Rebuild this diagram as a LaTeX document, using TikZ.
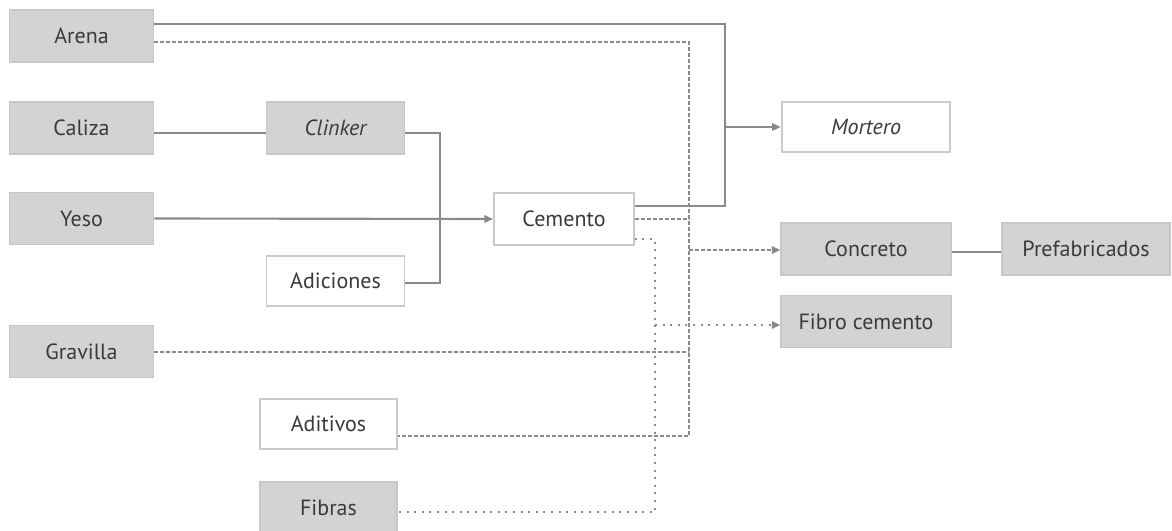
\documentclass[tikz,border=0pt]{standalone}
\usepackage{fontspec}
\setmainfont{PT Sans}
\usetikzlibrary{arrows.meta}
\definecolor{boxfill}{HTML}{D2D3D5}
\definecolor{boxline}{HTML}{C6C7C9}
\definecolor{wline}{HTML}{CACACC}
\definecolor{conn}{HTML}{8A8A8C}
\definecolor{txt}{HTML}{3A3A3C}
\tikzset{
  base/.style={rectangle, inner sep=0pt, line width=1.3pt, text=txt,
    font=\fontsize{16.5}{19}\selectfont, minimum height=39pt},
  graybox/.style={base, fill=boxfill, draw=boxline},
  whitebox/.style={base, fill=white, draw=wline},
  solidc/.style={draw=conn, line width=1.6pt},
  dashc/.style={draw=conn, line width=1.8pt, dash pattern=on 3pt off 1.5pt},
  dotc/.style={draw=conn, line width=1.8pt, dash pattern=on 1.5pt off 4.2pt},
  tip/.style={-{Triangle[length=6.5pt,width=5.5pt]}}
}
\begin{document}
\begin{tikzpicture}[x=0.75pt,y=-0.75pt]
\useasboundingbox (0,0) rectangle (1172,531);
% nodes
\node[graybox, minimum width=108pt] (arena) at (81.5,36) {Arena};
\node[graybox, minimum width=108pt] (caliza) at (81.5,128) {Caliza};
\node[graybox, minimum width=103.5pt] (clinker) at (335.5,128) {\itshape Clinker};
\node[graybox, minimum width=108pt] (yeso) at (81.5,218.5) {Yeso};
\node[whitebox, minimum width=103.5pt, minimum height=38pt] (adiciones) at (335.5,281) {Adiciones};
\node[whitebox, minimum width=105pt] (cemento) at (564,219) {Cemento};
\node[whitebox, minimum width=126.5pt, minimum height=37.5pt] (mortero) at (866,127) {\itshape Mortero};
\node[graybox, minimum width=127pt] (concreto) at (866,249) {Concreto};
\node[graybox, minimum width=126pt] (prefab) at (1086,249) {Prefabricados};
\node[graybox, minimum width=127pt] (fibro) at (866,321.5) {Fibro cemento};
\node[graybox, minimum width=108pt] (gravilla) at (81.5,351.5) {Gravilla};
\node[whitebox, minimum width=103pt, minimum height=38pt] (aditivos) at (328.5,424) {Aditivos};
\node[graybox, minimum width=103pt] (fibras) at (328.5,508) {Fibras};
% junction coordinates
\coordinate (sA) at (725,24);
\coordinate (sB) at (725,206);
\coordinate (sM) at (725,127);
\coordinate (cJ) at (440,133);
\coordinate (aJ) at (440,283);
\coordinate (dA) at (689,42);
\coordinate (dB) at (689,436);
\coordinate (dC) at (689,250);
\coordinate (pA) at (655,239);
\coordinate (pB) at (655,512);
\coordinate (pC) at (655,325);
% solid connectors
\draw[solidc] (arena.east |- sA) -- (sA) -- (sB) -- (cemento.east |- sB);
\draw[solidc, tip] (sM) -- (mortero.west |- sM);
\draw[solidc] (caliza.east |- cJ) -- (clinker.west |- cJ);
\draw[solidc] (clinker.east |- cJ) -- (cJ) -- (aJ) -- (adiciones.east |- aJ);
\draw[solidc, tip] (yeso.east) -- (cemento.west);
\draw[solidc] (concreto.east |- 0,252) -- (prefab.west |- 0,252);
% dashed connectors
\draw[dashc] (arena.east |- dA) -- (dA) -- (dB) -- (aditivos.east |- dB);
\draw[dashc] (cemento.east) -- (cemento.east -| dA);
\draw[dashc] (gravilla.east |- 0,352) -- (dA |- 0,352);
\draw[dashc, tip] (dC) -- (concreto.west |- dC);
% dotted connectors
\draw[dotc] (cemento.east |- pA) -- (pA) -- (pB) -- (fibras.east |- pB);
\draw[dotc, tip] (pC) -- (fibro.west |- pC);
\end{tikzpicture}
\end{document}
